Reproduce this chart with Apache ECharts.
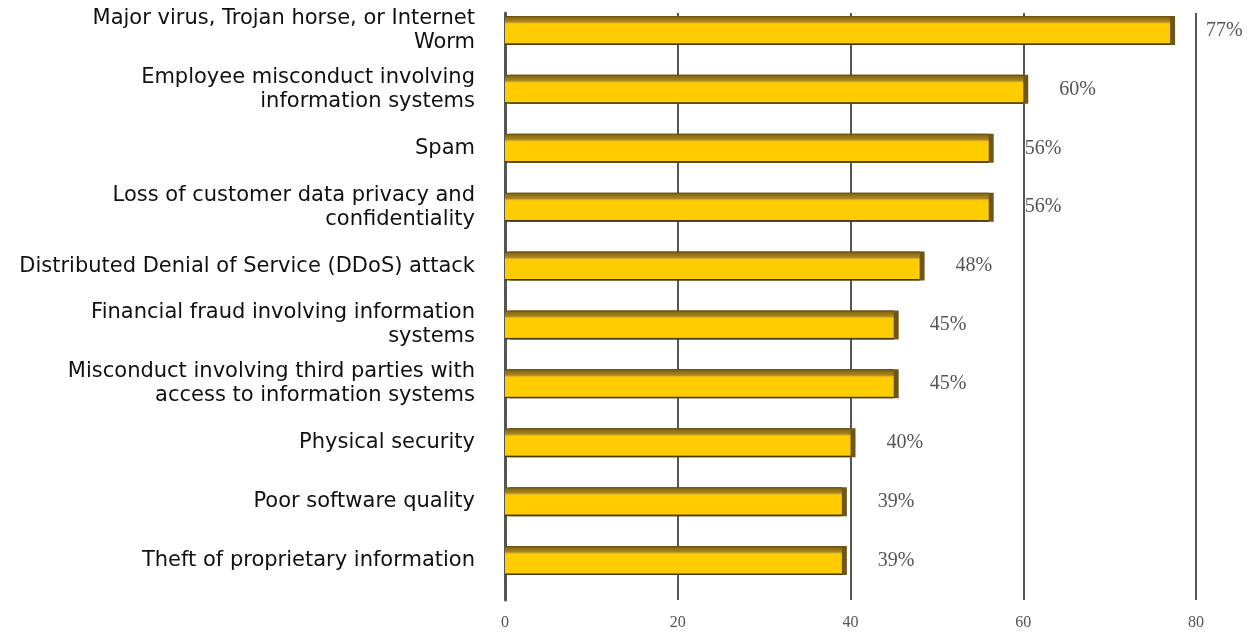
<!DOCTYPE html>
<html>
<head>
<meta charset="utf-8">
<script src="https://cdn.jsdelivr.net/npm/echarts@6/dist/echarts.min.js"></script>
<style>
html,body{margin:0;padding:0;background:#fff;}
#threatChart{width:1254px;height:632px;}
</style>
</head>
<body>
<div id="threatChart"></div>
<script>
// categories, top to bottom
var categories = [
  'Major virus, Trojan horse, or Internet\nWorm',
  'Employee misconduct involving\ninformation systems',
  'Spam',
  'Loss of customer data privacy and\nconfidentiality',
  'Distributed Denial of Service (DDoS) attack',
  'Financial fraud involving information\nsystems',
  'Misconduct involving third parties with\naccess to information systems',
  'Physical security',
  'Poor software quality',
  'Theft of proprietary information'
];
var percentValues = [77, 60, 56, 56, 48, 45, 45, 40, 39, 39];
var xTicks = [0, 20, 40, 60, 80];

var threatChart = echarts.init(document.getElementById('threatChart'));

var option = {
  animation: false,
  grid: [
    // bars
    { left: 505, right: 58, top: 1, bottom: 42 },
    // back wall: grid lines and tick labels
    { left: 505, right: 58, top: 13, bottom: 32 }
  ],
  xAxis: [{
    gridIndex: 0,
    type: 'value',
    min: xTicks[0],
    max: xTicks[xTicks.length - 1],
    interval: 20,
    show: false
  }, {
    gridIndex: 1,
    type: 'value',
    min: xTicks[0],
    max: xTicks[xTicks.length - 1],
    interval: 20,
    axisLine: { show: false },
    axisTick: { show: false },
    axisLabel: {
      margin: 15,
      color: '#555',
      fontFamily: "'Liberation Serif', serif",
      fontSize: 16
    },
    splitLine: {
      show: true,
      lineStyle: { color: '#555', width: 2 }
    }
  }],
  yAxis: [{
    gridIndex: 0,
    type: 'category',
    inverse: true,
    data: categories,
    axisLine: { show: false },
    axisTick: { show: false },
    axisLabel: {
      margin: 30,
      align: 'right',
      color: '#111',
      fontFamily: "'DejaVu Sans', Verdana, sans-serif",
      fontSize: 21,
      lineHeight: 24
    }
  }, {
    gridIndex: 1,
    type: 'value',
    axisLine: { show: true, lineStyle: { color: '#555', width: 3 } },
    axisTick: { show: false },
    axisLabel: { show: false },
    splitLine: { show: false }
  }],
  series: [{
    type: 'bar',
    xAxisIndex: 0,
    yAxisIndex: 0,
    data: percentValues,
    barWidth: 29,
    itemStyle: {
      color: new echarts.graphic.LinearGradient(0, 0, 0, 1, [
        { offset: 0, color: '#5e4608' },
        { offset: 0.06, color: '#8a6a14' },
        { offset: 0.2, color: '#a8861f' },
        { offset: 0.24, color: '#dcb02a' },
        { offset: 0.28, color: '#ffcc00' },
        { offset: 0.93, color: '#ffcc00' },
        { offset: 0.96, color: '#4a3a08' },
        { offset: 1, color: '#4a3a08' }
      ]),
      borderWidth: 0,
      shadowColor: '#6e5618',
      shadowOffsetX: 5,
      shadowOffsetY: 0,
      shadowBlur: 0
    },
    label: {
      show: true,
      position: 'right',
      distance: 36,
      formatter: '{c}%',
      color: '#555',
      fontFamily: "'Liberation Serif', serif",
      fontSize: 20
    }
  }]
};

threatChart.setOption(option);
window.addEventListener('resize', function () {
  threatChart.resize();
});
</script>
</body>
</html>
